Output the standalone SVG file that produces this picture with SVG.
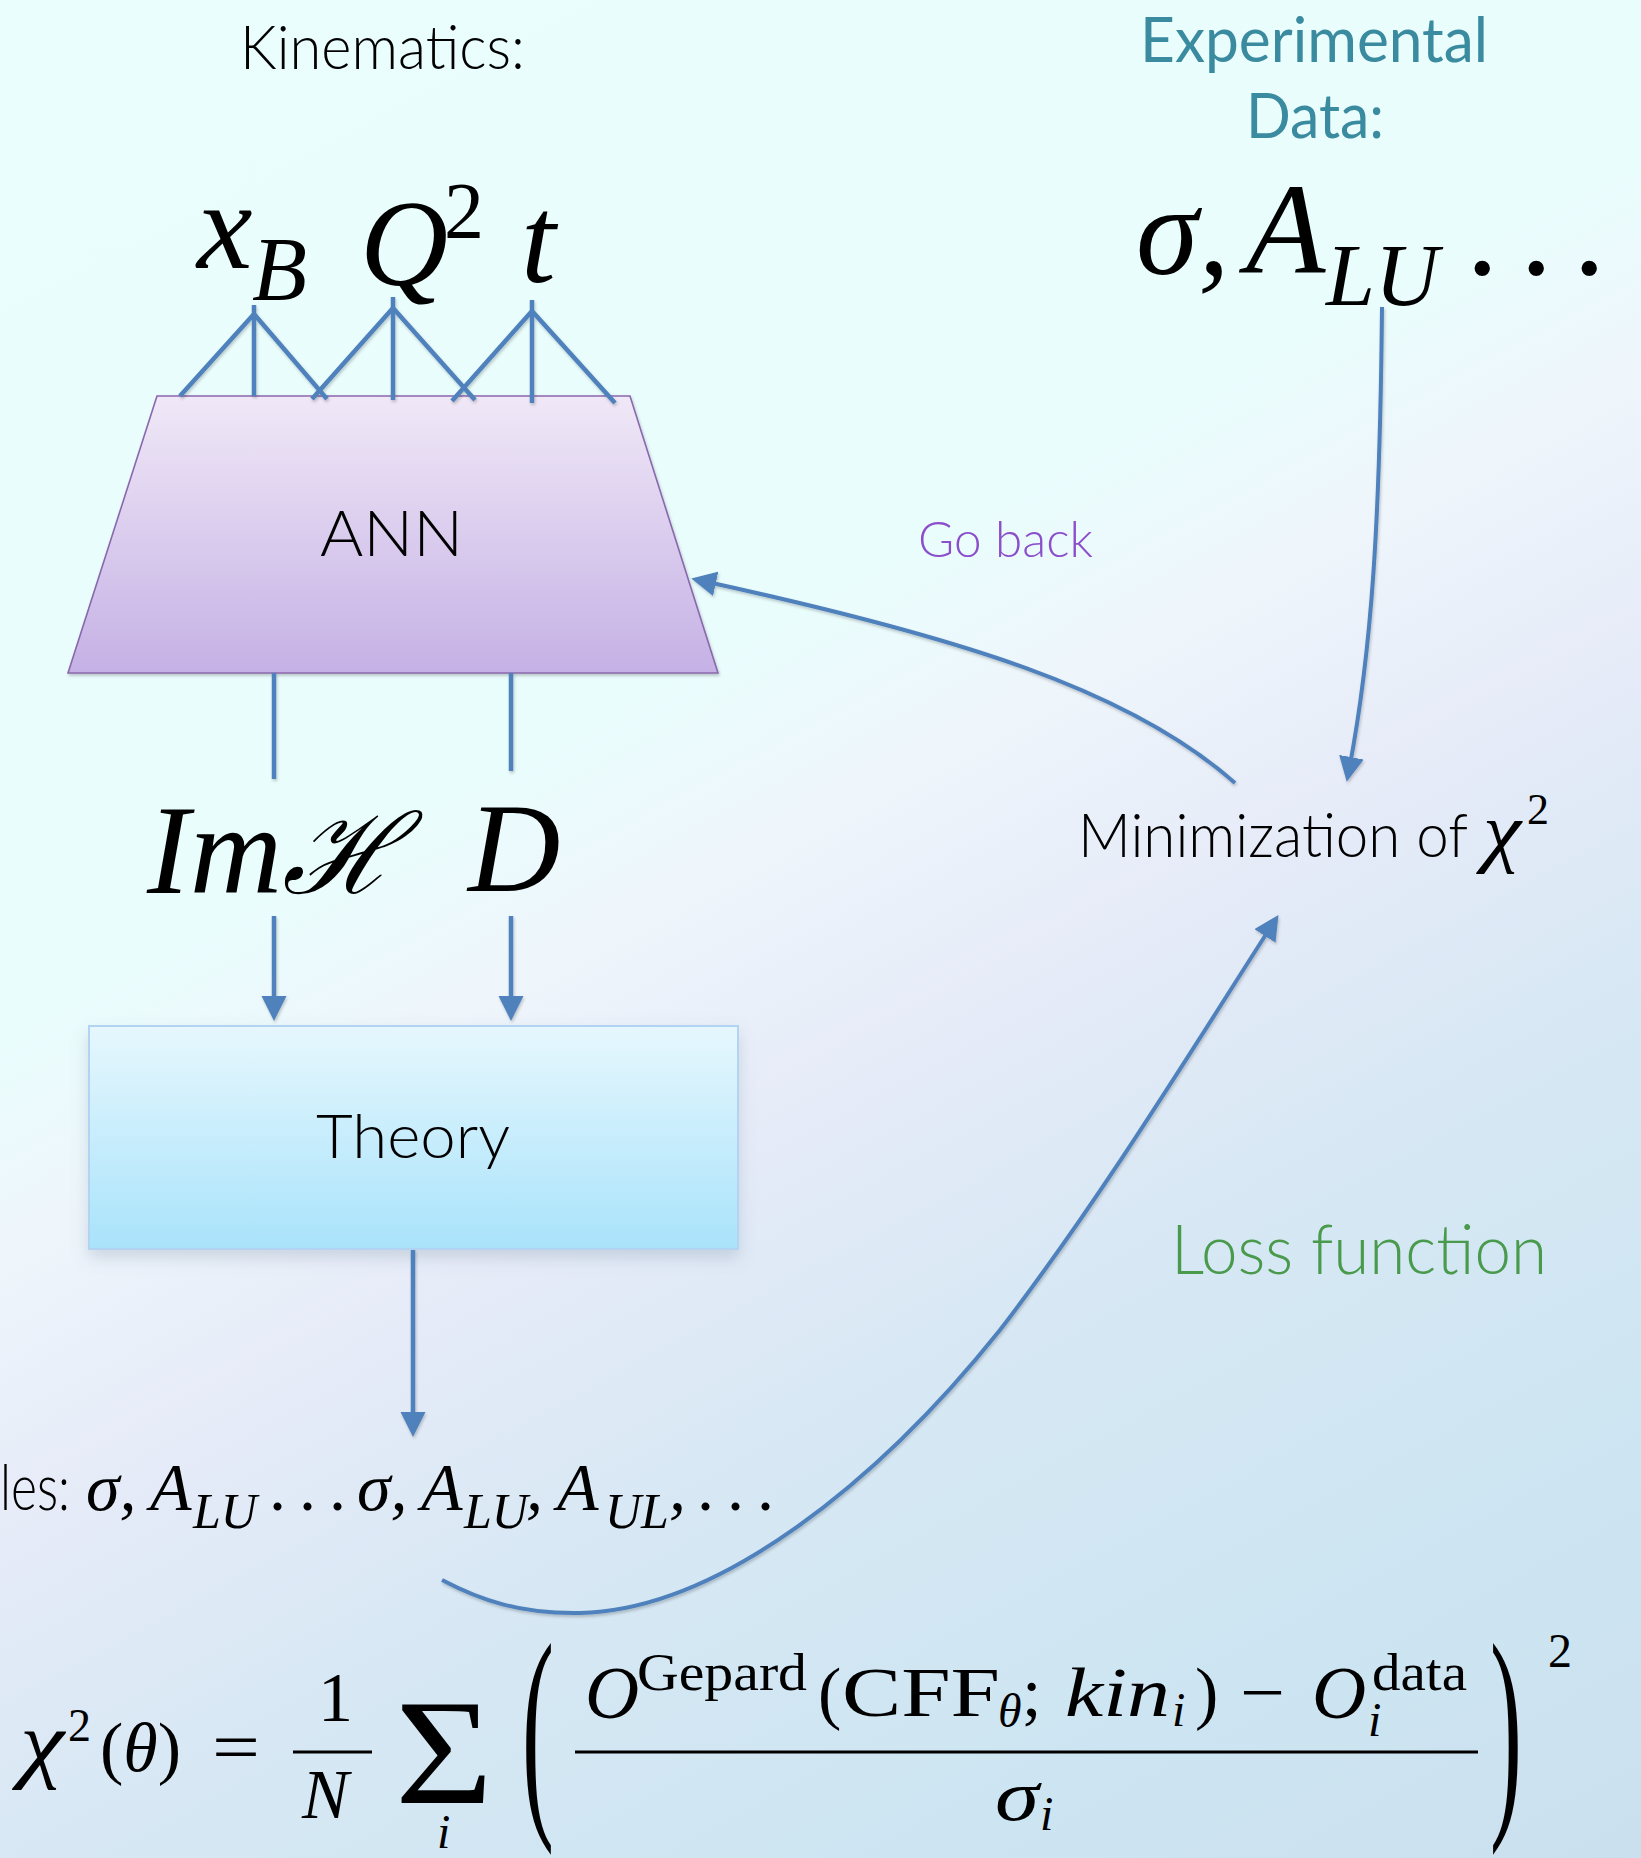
<svg xmlns="http://www.w3.org/2000/svg" width="1641" height="1858" viewBox="0 0 1641 1858">
<style>
.sans{font-family:"Lato","Open Sans","Liberation Sans",sans-serif;font-weight:300;fill:#000}
.reg{font-family:"Lato","Open Sans","Liberation Sans",sans-serif;font-weight:400}
.m{font-family:"Liberation Serif","DejaVu Serif",serif;fill:#000}
.mi{font-family:"Liberation Serif","DejaVu Serif",serif;font-style:italic;fill:#000}
.ln{stroke:#4f81bd;stroke-width:4.5;fill:none}
.cv{stroke:#4f81bd;stroke-width:4;fill:none}
</style>
<defs>
<linearGradient id="bg" gradientUnits="userSpaceOnUse" x1="0" y1="0" x2="1147" y2="2126">
<stop offset="0" stop-color="#eafefd"/>
<stop offset="0.38" stop-color="#eafdfd"/>
<stop offset="0.46" stop-color="#eef5fb"/>
<stop offset="0.56" stop-color="#e6ebf8"/>
<stop offset="0.68" stop-color="#d7e8f4"/>
<stop offset="0.85" stop-color="#cde5f2"/>
<stop offset="1" stop-color="#cbe0ee"/>
</linearGradient>
<linearGradient id="annG" x1="0" y1="0" x2="0" y2="1">
<stop offset="0" stop-color="#f0e8f7"/>
<stop offset="1" stop-color="#c5b1e5"/>
</linearGradient>
<linearGradient id="thG" x1="0" y1="0" x2="0" y2="1">
<stop offset="0" stop-color="#e6f7fd"/>
<stop offset="1" stop-color="#a9e3fb"/>
</linearGradient>
<filter id="sh" x="-10%" y="-10%" width="120%" height="130%">
<feDropShadow dx="1" dy="2" stdDeviation="1.5" flood-color="#000" flood-opacity="0.22"/>
</filter>
<filter id="bsh" x="-10%" y="-10%" width="120%" height="140%">
<feDropShadow dx="0" dy="8" stdDeviation="8" flood-color="#6a7f99" flood-opacity="0.25"/>
</filter>
<marker id="ah" markerUnits="userSpaceOnUse" markerWidth="26" markerHeight="26" refX="13" refY="12.5" orient="auto">
<path d="M0,0 L25,12.5 L0,25 Z" fill="#4f81bd"/>
</marker>
</defs>

<rect width="1641" height="1858" fill="url(#bg)"/>

<g id="kinematics-label">
<text class="sans" x="240" y="69" font-size="62" textLength="285" lengthAdjust="spacingAndGlyphs">Kinematics:</text>
</g>

<g id="experimental-label">
<text class="reg" x="1140" y="62" font-size="62" fill="#3a8aa0" textLength="348" lengthAdjust="spacingAndGlyphs">Experimental</text>
<text class="reg" x="1246" y="138" font-size="62" fill="#3a8aa0" textLength="138" lengthAdjust="spacingAndGlyphs">Data:</text>
</g>

<g id="input-xB">
<text class="mi" x="197" y="268" font-size="125">x</text>
<text class="mi" x="252" y="300" font-size="90">B</text>
</g>
<g id="input-Q2">
<text class="mi" x="360" y="285" font-size="122">Q</text>
<text class="m" x="444" y="238" font-size="80">2</text>
</g>
<g id="input-t">
<text class="mi" x="521" y="282" font-size="125">t</text>
</g>

<g id="exp-data">
<text class="mi" x="1136" y="274" font-size="126">σ,</text>
<text class="mi" x="1246" y="273" font-size="130">A</text>
<text class="mi" x="1326" y="305" font-size="88">LU</text>
<text class="m" x="1466 1520 1573" y="274" font-size="130">...</text>
</g>

<g id="ann">
<polygon points="157,396 630,396 718,673 68,673" fill="url(#annG)" stroke="#8a68ad" stroke-width="1.6" filter="url(#sh)"/>
<text class="sans" x="320" y="556" font-size="64" textLength="143" lengthAdjust="spacingAndGlyphs">ANN</text>
</g>

<g id="output-ImH">
<text class="mi" x="147" y="893" font-size="128">Im<tspan font-family="'DejaVu Serif',serif" font-size="112">ℋ</tspan></text>
</g>
<g id="output-D">
<text class="mi" x="468" y="891" font-size="128">D</text>
</g>

<g id="theory">
<rect x="89" y="1026" width="649" height="223" fill="url(#thG)" stroke="#b3d3f3" stroke-width="2" filter="url(#bsh)"/>
<text class="sans" x="316" y="1158" font-size="62" textLength="194" lengthAdjust="spacingAndGlyphs">Theory</text>
</g>

<g id="observables">
<text class="sans" x="0" y="1510" font-size="63" textLength="70" lengthAdjust="spacingAndGlyphs">les:</text>
<text class="mi" x="86" y="1510" font-size="68">σ,</text>
<text class="mi" x="150" y="1510" font-size="68">A</text>
<text class="mi" x="193" y="1528" font-size="50">LU</text>
<text class="m" x="269 299 329" y="1510" font-size="68">...</text>
<text class="mi" x="357" y="1510" font-size="68">σ,</text>
<text class="mi" x="421" y="1510" font-size="68">A</text>
<text class="mi" x="464" y="1528" font-size="50">LU</text>
<text class="mi" x="526" y="1510" font-size="68">,</text>
<text class="mi" x="557" y="1510" font-size="68">A</text>
<text class="mi" x="605" y="1528" font-size="50">UL</text>
<text class="mi" x="669" y="1510" font-size="68">,</text>
<text class="m" x="697 727 757" y="1510" font-size="68">...</text>
</g>

<g id="go-back-label">
<text class="sans" x="918" y="557" font-size="50" style="fill:#8b4fcc" textLength="175" lengthAdjust="spacingAndGlyphs">Go back</text>
</g>

<g id="minimization">
<text class="sans" x="1078" y="857" font-size="62" textLength="390" lengthAdjust="spacingAndGlyphs">Minimization of</text>
<text class="mi" x="1483" y="857" font-size="78" textLength="38" lengthAdjust="spacingAndGlyphs">χ</text>
<text class="m" x="1527" y="824" font-size="44">2</text>
</g>

<g id="loss-label">
<text class="sans" x="1171" y="1274" font-size="69" style="fill:#4a9a4d" textLength="376" lengthAdjust="spacingAndGlyphs">Loss function</text>
</g>

<g id="formula">
<text class="mi" x="20" y="1771" font-size="86" textLength="44" lengthAdjust="spacingAndGlyphs">χ</text>
<text class="m" x="68" y="1741" font-size="46">2</text>
<text class="m" x="100" y="1771" font-size="70">(<tspan class="mi">θ</tspan>)</text>
<text class="m" x="212" y="1771" font-size="70" textLength="48" lengthAdjust="spacingAndGlyphs">=</text>
<text class="m" x="318" y="1721" font-size="70">1</text>
<line x1="293" y1="1752" x2="372" y2="1752" stroke="#000" stroke-width="3"/>
<text class="mi" x="302" y="1818" font-size="70">N</text>
<text class="m" x="395" y="1803" font-size="150" textLength="98" lengthAdjust="spacingAndGlyphs">Σ</text>
<text class="mi" x="437" y="1848" font-size="48">i</text>
<text class="m" transform="translate(522,1805) scale(1.2,2.92)" font-size="80">(</text>
<text class="mi" x="585" y="1718" font-size="75">O</text>
<text class="m" x="637" y="1690" font-size="52" textLength="170" lengthAdjust="spacingAndGlyphs">Gepard</text>
<text class="m" x="818" y="1716" font-size="70">(</text>
<text class="m" x="842" y="1716" font-size="70" textLength="158" lengthAdjust="spacingAndGlyphs">CFF</text>
<text class="mi" x="998" y="1727" font-size="48">θ</text>
<text class="m" x="1022" y="1716" font-size="70">;</text>
<text class="mi" x="1065" y="1716" font-size="70" textLength="105" lengthAdjust="spacingAndGlyphs">kin</text>
<text class="mi" x="1172" y="1726" font-size="48">i</text>
<text class="m" x="1195" y="1716" font-size="70">)</text>
<text class="m" x="1240" y="1716" font-size="70" textLength="45" lengthAdjust="spacingAndGlyphs">−</text>
<text class="mi" x="1312" y="1718" font-size="75">O</text>
<text class="m" x="1372" y="1690" font-size="52" textLength="95" lengthAdjust="spacingAndGlyphs">data</text>
<text class="mi" x="1368" y="1736" font-size="48">i</text>
<line x1="575" y1="1752" x2="1478" y2="1752" stroke="#000" stroke-width="3"/>
<text class="mi" x="995" y="1820" font-size="72" textLength="44" lengthAdjust="spacingAndGlyphs">σ</text>
<text class="mi" x="1040" y="1830" font-size="48">i</text>
<text class="m" transform="translate(1490,1805) scale(1.2,2.92)" font-size="80">)</text>
<text class="m" x="1548" y="1667" font-size="48">2</text>
</g>

<g id="connectors" filter="url(#sh)">
<line class="ln" x1="254" y1="305" x2="254" y2="396"/>
<line class="ln" x1="254" y1="314" x2="180" y2="396"/>
<line class="ln" x1="254" y1="314" x2="327" y2="399"/>
<line class="ln" x1="393" y1="297" x2="393" y2="400"/>
<line class="ln" x1="393" y1="308" x2="312" y2="399"/>
<line class="ln" x1="393" y1="308" x2="475" y2="400"/>
<line class="ln" x1="532" y1="300" x2="532" y2="403"/>
<line class="ln" x1="532" y1="311" x2="452" y2="401"/>
<line class="ln" x1="532" y1="311" x2="615" y2="403"/>
<line class="ln" x1="274" y1="673" x2="274" y2="779"/>
<line class="ln" x1="511" y1="673" x2="511" y2="771"/>
<line class="ln" x1="274" y1="916" x2="274" y2="1009" marker-end="url(#ah)"/>
<line class="ln" x1="511" y1="916" x2="511" y2="1009" marker-end="url(#ah)"/>
<line class="ln" x1="413" y1="1250" x2="413" y2="1425" marker-end="url(#ah)"/>
<path class="cv" d="M1382,307 C1380,520 1372,650 1349,770" marker-end="url(#ah)"/>
<path class="cv" d="M1235,783 C1130,690 960,637 703,581" marker-end="url(#ah)"/>
<path class="cv" d="M442,1580 C480,1600 520,1614 580,1613 C720,1610 880,1480 1000,1330 C1100,1200 1195,1045 1272,925" marker-end="url(#ah)"/>
</g>
</svg>
